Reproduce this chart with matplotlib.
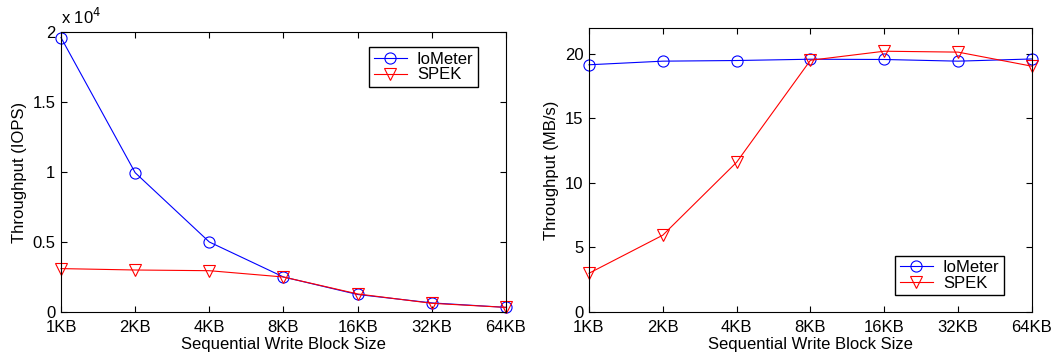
import matplotlib
matplotlib.use("Agg")
import matplotlib.pyplot as plt

plt.rcParams["font.family"] = ["Liberation Sans", "DejaVu Sans"]
plt.rcParams["font.size"] = 12

block_sizes = ["1KB", "2KB", "4KB", "8KB", "16KB", "32KB", "64KB"]

# throughput in IOPS
iometer_iops = [19600, 9950, 5000, 2500, 1250, 650, 330]
spek_iops = [3100, 3000, 2950, 2500, 1290, 620, 330]

# throughput in MB/s
iometer_mbs = [19.15, 19.43, 19.48, 19.58, 19.56, 19.43, 19.6]
spek_mbs = [3.0, 5.95, 11.6, 19.5, 20.2, 20.13, 19.04]


def style_axes(ax):
    ax.tick_params(direction="in", top=True, right=True, length=4, width=0.8, labelsize=12)
    ax.tick_params(axis="x", pad=6)
    ax.tick_params(axis="y", pad=4)
    for s in ax.spines.values():
        s.set_linewidth(0.8)
    ax.set_xticks(range(len(block_sizes)))
    ax.set_xticklabels(block_sizes)
    ax.set_xlim(0, len(block_sizes) - 1)
    ax.set_xlabel("Sequential Write Block Size", fontsize=12, labelpad=1)


def draw(ax, ivals, svals):
    x = range(len(block_sizes))
    ax.plot(x, ivals, color="blue", lw=0.8, marker="o", ms=8, mfc="none", mew=0.8, label="IoMeter", clip_on=False)
    ax.plot(x, svals, color="red", lw=0.8, marker="v", ms=8, mfc="none", mew=0.8, label="SPEK", clip_on=False)


fig = plt.figure(figsize=(10.61, 3.56), dpi=100)

ax1 = fig.add_axes([0.0575, 0.1236, 0.4194, 0.7865])
draw(ax1, [v / 1e4 for v in iometer_iops], [v / 1e4 for v in spek_iops])
style_axes(ax1)
ax1.set_ylim(0, 2)
ax1.set_yticks([0, 0.5, 1, 1.5, 2])
ax1.set_yticklabels(["0", "0.5", "1", "1.5", "2"])
ax1.set_ylabel("Throughput (IOPS)", fontsize=12, labelpad=4)
ax1.text(0.0, 1.03, r"x 10$^{4}$", transform=ax1.transAxes, fontsize=12)
leg1 = ax1.legend(loc="upper right", bbox_to_anchor=(0.955, 0.975), fancybox=False, framealpha=1,
                  edgecolor="black", fontsize=12, handlelength=2.0, borderpad=0.25, labelspacing=0.05,
                  handletextpad=0.6)
leg1.get_frame().set_linewidth(1.0)

ax2 = fig.add_axes([0.5551, 0.1236, 0.4175, 0.7978])
draw(ax2, iometer_mbs, spek_mbs)
style_axes(ax2)
ax2.set_ylim(0, 22)
ax2.set_yticks([0, 5, 10, 15, 20])
ax2.set_ylabel("Throughput (MB/s)", fontsize=12, labelpad=4)
leg2 = ax2.legend(loc="lower right", bbox_to_anchor=(0.955, 0.03), fancybox=False, framealpha=1,
                  edgecolor="black", fontsize=12, handlelength=2.0, borderpad=0.25, labelspacing=0.05,
                  handletextpad=0.6)
leg2.get_frame().set_linewidth(1.0)

fig.savefig("out.png", dpi=100)
